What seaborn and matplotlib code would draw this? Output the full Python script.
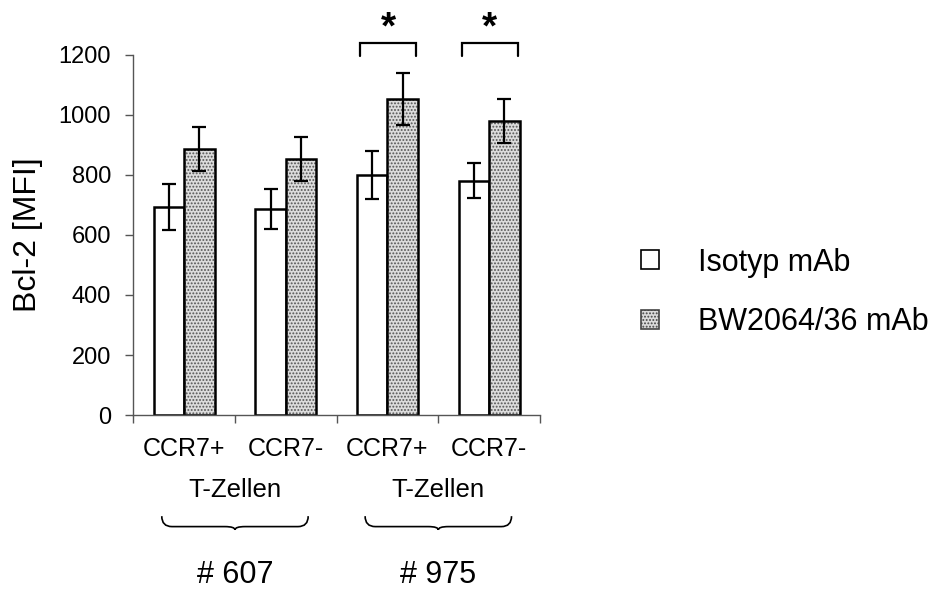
import numpy as np
import pandas as pd
import matplotlib
matplotlib.use("Agg")
import matplotlib.pyplot as plt
from matplotlib.patches import Rectangle, Patch
from matplotlib.path import Path
from matplotlib.patches import PathPatch
import seaborn as sns

# ---- data ----
donors = ["# 607", "# 607", "# 975", "# 975"]
subsets = ["CCR7+", "CCR7-", "CCR7+", "CCR7-"]
treatments = ["Isotyp mAb", "BW2064/36 mAb"]
iso_values = [692, 687, 800, 781]
iso_errors = [77, 67, 80, 59]
bw_values = [887, 853, 1054, 980]
bw_errors = [73, 74, 86, 73]
significance = ["", "", "*", "*"]
group_label = "T-Zellen"
ylabel = "Bcl-2 [MFI]"
yticks = [0, 200, 400, 600, 800, 1000, 1200]

sns.set_theme(style="ticks")
plt.rcParams["font.family"] = ["Liberation Sans", "DejaVu Sans"]
plt.rcParams["hatch.linewidth"] = 0.9
for k in ["text.color", "axes.labelcolor", "xtick.labelcolor", "ytick.labelcolor"]:
    plt.rcParams[k] = "black"

cats = [f"{d} {s}" for d, s in zip(donors, subsets)]
df = pd.DataFrame({
    "cat": cats * 2,
    "treatment": [treatments[0]] * 4 + [treatments[1]] * 4,
    "value": iso_values + bw_values,
})
err_map = {treatments[0]: iso_errors, treatments[1]: bw_errors}

fig = plt.figure(figsize=(9.45, 5.92), dpi=100)
ax = fig.add_axes([133.3 / 945, 1 - 415 / 592, (540 - 133.3) / 945, 360 / 592])

gray_face = "#dcdcdc"
sns.barplot(data=df, x="cat", y="value", hue="treatment", order=cats,
            hue_order=treatments,
            palette={treatments[0]: "white", treatments[1]: gray_face},
            edgecolor="black", linewidth=1.8, width=0.6, gap=0,
            errorbar=None, legend=False, ax=ax, saturation=1)

# style + error bars
bar_geom = {}
bar_containers = list(ax.containers)
for ti, cont in enumerate(bar_containers):
    tname = treatments[ti]
    for bar in cont:
        xc = bar.get_x() + bar.get_width() / 2
        ci = int(round(xc))
        bar_geom[(ti, ci)] = bar
        if ti == 1:
            bar.set_hatch(".....")
            bar.set_edgecolor("#555555")
            bar.set_linewidth(0)
            ax.add_patch(Rectangle(bar.get_xy(), bar.get_width(), bar.get_height(),
                                   fill=False, edgecolor="black", linewidth=1.8,
                                   zorder=bar.get_zorder() + 0.1))
        ax.errorbar(xc, bar.get_height(), yerr=err_map[tname][ci], fmt="none",
                    ecolor="black", elinewidth=1.6, capsize=5, capthick=1.6,
                    zorder=5)

ax.set_ylim(0, 1200)
ax.set_xlim(-0.5, 3.5)
ax.set_yticks(yticks)
ax.set_yticklabels([str(t) for t in yticks], fontsize=17)
ax.set_xticks(range(len(cats)))
ax.set_xticklabels(subsets, fontsize=18)
ax.set_xticks(np.arange(-0.5, len(cats), 1.0), minor=True)
ax.tick_params(axis="x", which="major", length=0, pad=16)
ax.tick_params(axis="x", which="minor", length=6, width=1, color="#555555", direction="out")
ax.tick_params(axis="y", which="major", length=6, width=1, color="#555555", pad=10)
ax.set_xlabel("")
ax.set_ylabel(ylabel, fontsize=23)
ax.yaxis.set_label_coords(-0.222, 0.5)
for s in ["top", "right"]:
    ax.spines[s].set_visible(False)
for s in ["left", "bottom"]:
    ax.spines[s].set_color("#555555")
    ax.spines[s].set_linewidth(1)

trans = ax.get_xaxis_transform()
# group labels and braces
unique_donors = list(dict.fromkeys(donors))
for d in unique_donors:
    idx = [i for i, dd in enumerate(donors) if dd == d]
    xm = np.mean(idx)
    ax.text(xm, -0.228, group_label, transform=trans, ha="center", va="baseline",
            fontsize=18.5, clip_on=False)
    ax.text(xm, -0.468, d, transform=trans, ha="center", va="baseline",
            fontsize=22, clip_on=False)
    half = 0.72
    x0, x1 = xm - half, xm + half
    top, flat, tip = -0.281, -0.31, -0.319
    r = 0.1
    verts = [(x0, top), (x0, flat), (x0 + r, flat), (xm - r, flat), (xm, flat), (xm, tip),
             (xm, flat), (xm + r, flat), (x1 - r, flat), (x1, flat), (x1, top)]
    codes = [Path.MOVETO, Path.CURVE3, Path.CURVE3, Path.LINETO, Path.CURVE3, Path.CURVE3,
             Path.CURVE3, Path.CURVE3, Path.LINETO, Path.CURVE3, Path.CURVE3]
    ax.add_patch(PathPatch(Path(verts, codes), transform=trans, fill=False,
                           edgecolor="black", linewidth=1.2, clip_on=False))

# significance brackets
for ci, s in enumerate(significance):
    if not s:
        continue
    b0 = bar_geom[(0, ci)]
    b1 = bar_geom[(1, ci)]
    xl = b0.get_x() + 0.03
    xr = b1.get_x() + b1.get_width() - 0.02
    ax.plot([xl, xl, xr, xr], [1197, 1239, 1239, 1197], color="black", lw=1.6,
            clip_on=False, solid_joinstyle="miter")
    ax.text((xl + xr) / 2, 1255, s, ha="center", va="baseline", fontsize=28,
            fontweight="bold", clip_on=False)

# legend
handles = [Patch(facecolor="white", edgecolor="black", linewidth=1.2),
           Patch(facecolor=gray_face, edgecolor="#444444", hatch=".....", linewidth=1.2)]
leg = fig.legend(handles, treatments, loc="center left",
                 bbox_to_anchor=(641 / 945, 1 - 292.5 / 592), frameon=False,
                 fontsize=22, handlelength=0.58, handleheight=0.58,
                 handletextpad=1.3, labelspacing=0.98, borderpad=0, borderaxespad=0)

fig.savefig("out.png", dpi=100)
